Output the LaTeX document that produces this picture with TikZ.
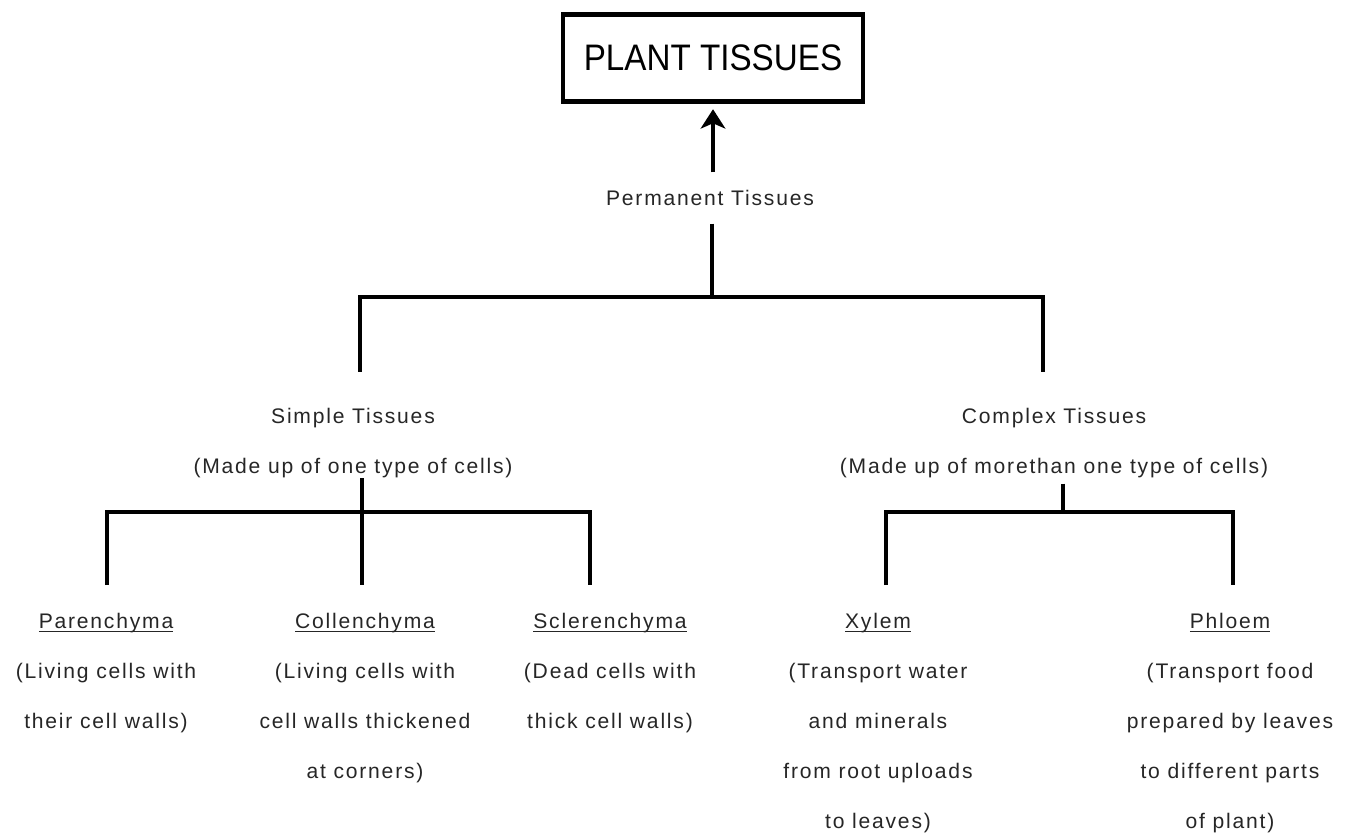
\documentclass[tikz,border=0pt]{standalone}
\usepackage{fontspec}
\setmainfont{Liberation Sans}[LetterSpace=8.5]
\newfontfamily\titlefont{Liberation Sans}[FakeStretch=0.9]
\usetikzlibrary{arrows.meta}
\newcommand{\tname}[1]{\underline{\smash{#1}}\vphantom{#1}}
\tikzset{
  rootbox/.style={draw, line width=2.8pt, minimum width=6cm, minimum height=1.74cm,
    font=\titlefont\fontsize{21}{24}\selectfont},
  lbl/.style={text=black!85, font=\fontsize{12}{28.45}\selectfont, align=center, inner sep=0pt},
  branch/.style={line width=2pt},
  uparrow/.style={line width=2.8pt, -{Stealth[length=11pt, width=14pt, inset=3pt]}, shorten >=3pt}
}
\begin{document}
\begin{tikzpicture}[x=0.02cm, y=-0.02cm]
                    \useasboundingbox (0,0) rectangle (1351,837);
                    % Top
                    \node[rootbox] (root) at (713,58) {PLANT TISSUES};
                    \node[lbl, inner ysep=10pt] (perm) at (710,198) {Permanent Tissues};
                    \draw[uparrow] (perm.north -| root) -- (root);
                    % Main branches
                    \coordinate (tbar) at (712,297);
                    \coordinate (dsim) at (360,372);
                    \coordinate (dcom) at (1043,372);
                    \draw[branch] (perm.south -| tbar) -- (tbar);
                    \draw[branch] (dsim) |- (tbar) -| (dcom);
                    \node[lbl, anchor=north] (simple) at (353,408) {Simple Tissues\\(Made up of one type of cells)};
                    \node[lbl, anchor=north] (complex) at (1054,408) {Complex Tissues\\(Made up of morethan one type of cells)};
                    % Simple tissues
                    \coordinate (sbar) at (362,512);
                    \coordinate (dpar) at (107,585);
                    \coordinate (dcol) at (362,585);
                    \coordinate (dscl) at (590,585);
                    \draw[branch] (simple.south -| sbar) -- (dcol);
                    \draw[branch] (dpar) |- (sbar) -| (dscl);
                    \node[lbl, anchor=north] (par) at (106,613) {\tname{Parenchyma}\\(Living cells with\\their cell walls)};
                    \node[lbl, anchor=north] (col) at (365,613) {\tname{Collenchyma}\\(Living cells with\\cell walls thickened\\at corners)};
                    \node[lbl, anchor=north] (scl) at (610,613) {\tname{Sclerenchyma}\\(Dead cells with\\thick cell walls)};
                    % Complex tissues
                    \coordinate (cbar) at (1063,512);
                    \coordinate (dxyl) at (886,585);
                    \coordinate (dphl) at (1233,585);
                    \draw[branch] ([yshift=-3pt]complex.south -| cbar) -- (cbar);
                    \draw[branch] (dxyl) |- (cbar) -| (dphl);
                    \node[lbl, anchor=north] (xyl) at (878,613) {\tname{Xylem}\\(Transport water\\and minerals\\from root uploads\\to leaves)};
                    \node[lbl, anchor=north] (phl) at (1230,613) {\tname{Phloem}\\(Transport food\\prepared by leaves\\to different parts\\of plant)};
                \end{tikzpicture}
\end{document}
